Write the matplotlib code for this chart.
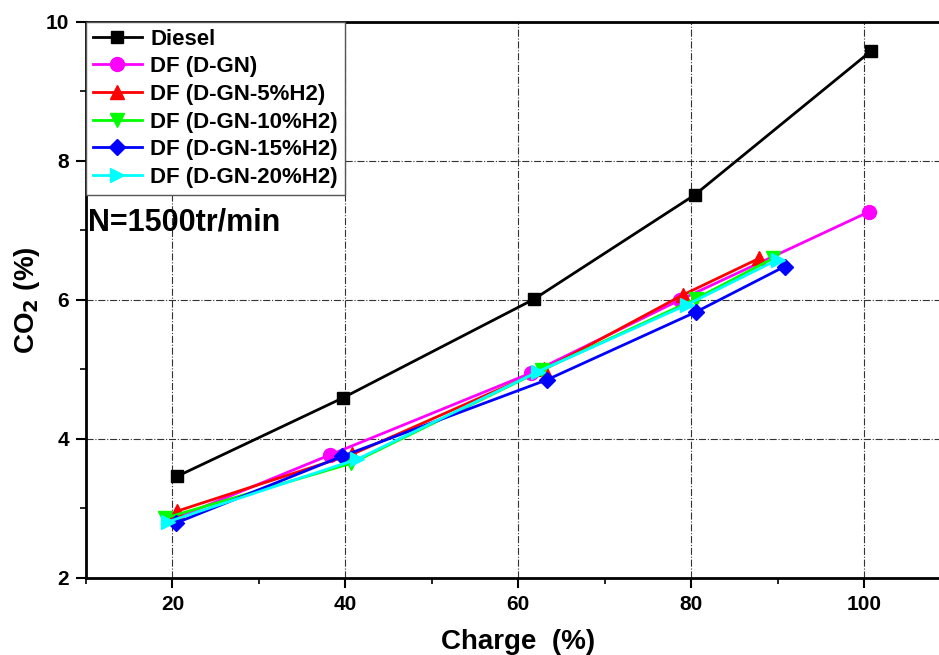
import matplotlib.pyplot as plt
from matplotlib.ticker import MultipleLocator

plt.rcParams['font.family'] = ['Liberation Sans', 'DejaVu Sans']
plt.rcParams['font.weight'] = 'bold'

# charge (%) and CO2 (%) per fuel
diesel_x = [20.5, 39.7, 61.8, 80.4, 100.8]
diesel_y = [3.46, 4.59, 6.01, 7.51, 9.58]
dgn_x = [20.2, 38.2, 61.5, 78.7, 100.6]
dgn_y = [2.85, 3.77, 4.95, 6.00, 7.27]
h5_x = [20.5, 40.8, 63.0, 79.0, 87.9]
h5_y = [2.96, 3.78, 5.00, 6.07, 6.60]
h10_x = [19.1, 40.7, 62.7, 80.6, 89.5]
h10_y = [2.86, 3.65, 4.99, 6.02, 6.60]
h15_x = [20.4, 39.6, 63.3, 80.6, 90.8]
h15_y = [2.79, 3.75, 4.85, 5.83, 6.48]
h20_x = [19.5, 41.4, 62.3, 79.5, 90.0]
h20_y = [2.81, 3.71, 4.97, 5.93, 6.58]

series = [
    ('Diesel', diesel_x, diesel_y, 'black', 's'),
    ('DF (D-GN)', dgn_x, dgn_y, '#ff00ff', 'o'),
    ('DF (D-GN-5%H2)', h5_x, h5_y, '#ff0000', '^'),
    ('DF (D-GN-10%H2)', h10_x, h10_y, '#00ff00', 'v'),
    ('DF (D-GN-15%H2)', h15_x, h15_y, '#0000ff', 'D'),
    ('DF (D-GN-20%H2)', h20_x, h20_y, '#00ffff', '>'),
]

fig = plt.figure(figsize=(9.39, 6.55), dpi=100)
ax = fig.add_axes([0.0916, 0.1176, 0.9207, 0.849])

for label, x, y, c, m in series:
    ms = 8 if m in ('s', 'D') else 10
    ax.plot(x, y, color=c, marker=m, markersize=ms, linewidth=2, label=label)

ax.set_xlim(10, 110)
ax.set_ylim(2, 10)
ax.xaxis.set_major_locator(MultipleLocator(20))
ax.xaxis.set_minor_locator(MultipleLocator(10))
ax.yaxis.set_major_locator(MultipleLocator(2))
ax.yaxis.set_minor_locator(MultipleLocator(1))
ax.tick_params(which='major', direction='out', length=7, width=1.5, labelsize=15, pad=5)
ax.tick_params(which='minor', direction='out', length=4, width=1.2)
for lab in ax.get_xticklabels() + ax.get_yticklabels():
    lab.set_fontweight('bold')

for s in ax.spines.values():
    s.set_linewidth(2)

ax.grid(True, which='major', linestyle='-.', color='#333333', linewidth=0.8)

ax.set_xlabel('Charge  (%)', fontsize=20, fontweight='bold', labelpad=11)
ax.set_ylabel('CO$_\\mathbf{2}$ (%)', fontsize=20, fontweight='bold', labelpad=3)

leg = ax.legend(loc='upper left', borderaxespad=0, fontsize=16, fancybox=False,
                framealpha=1, edgecolor='#555555', handlelength=2.2,
                labelspacing=0.3, borderpad=0.3, handletextpad=0.4)
for t in leg.get_texts():
    t.set_fontweight('bold')

ax.text(10.2, 7.11, 'N=1500tr/min', fontsize=22, fontweight='bold', va='center', ha='left')

fig.savefig('out.png', dpi=100)
